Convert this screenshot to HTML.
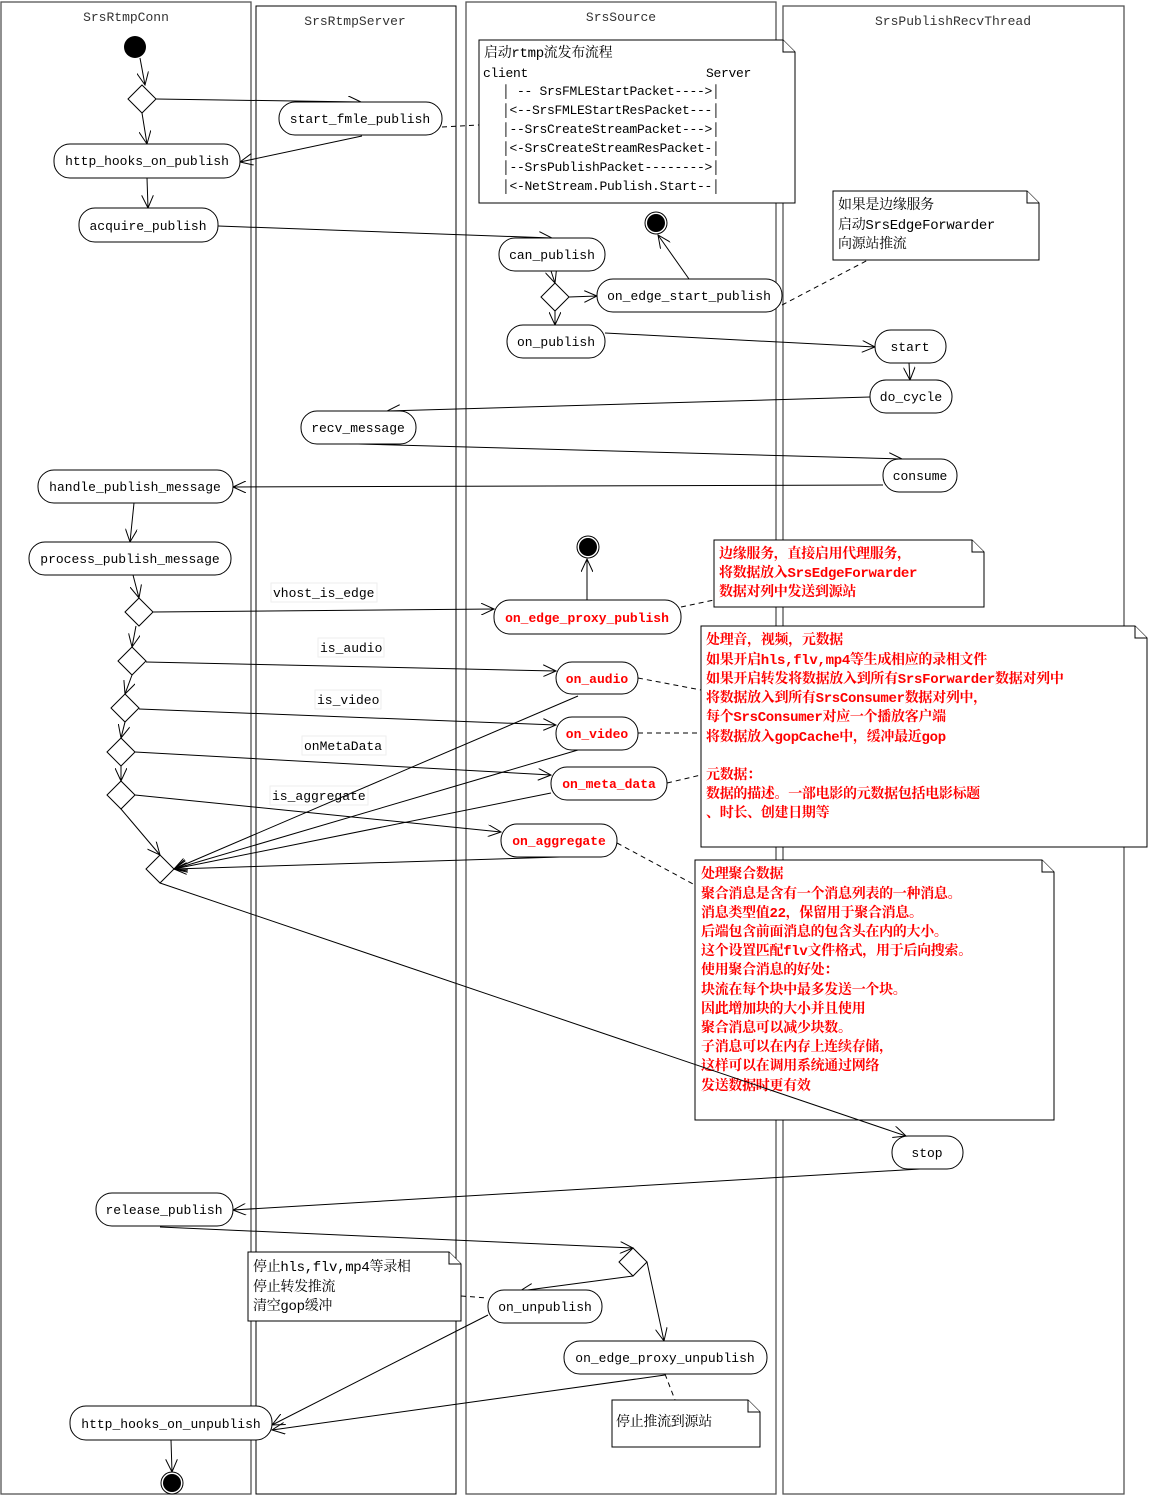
<!DOCTYPE html>
<html><head><meta charset="utf-8"><style>
html,body{margin:0;padding:0;background:#fff}
svg{display:block}
.m{font-family:"Liberation Mono","Noto Serif CJK SC",monospace;font-size:13px}
.c{font-family:"Liberation Mono","Noto Serif CJK SC",monospace;font-size:14px;letter-spacing:-0.3px}
.r{fill:#f00;font-weight:bold}
</style></head><body>
<svg width="1151" height="1498" viewBox="0 0 1151 1498" xmlns="http://www.w3.org/2000/svg">
<defs>
<marker id="a" markerWidth="14" markerHeight="12" refX="13" refY="6" orient="auto" markerUnits="userSpaceOnUse">
<path d="M0,0 L13,6 L0,12" fill="none" stroke="#000" stroke-width="1"/></marker>
</defs>
<g fill="none" stroke="#555" stroke-width="1.3">
<rect x="1" y="2" width="250" height="1492"/>
<rect x="256" y="6" width="200" height="1488" stroke="#000" stroke-width="1"/>
<rect x="466" y="2" width="310" height="1492"/>
<rect x="783" y="6" width="341" height="1488"/>
</g>
<g class="m" fill="#333" text-anchor="middle">
<text x="126" y="21">SrsRtmpConn</text>
<text x="355" y="25">SrsRtmpServer</text>
<text x="621" y="21">SrsSource</text>
<text x="953" y="25">SrsPublishRecvThread</text>
</g>

<!-- notes -->
<g fill="#fff" stroke="#000" stroke-width="1">
<path d="M479,40 H783 L795,52 V203 H479 Z"/><path d="M783,40 V52 H795"/>
<path d="M833,191 H1027 L1039,203 V260 H833 Z"/><path d="M1027,191 V203 H1039"/>
<path d="M714,540 H972 L984,552 V607 H714 Z"/><path d="M972,540 V552 H984"/>
<path d="M701,626 H1135 L1147,638 V847 H701 Z"/><path d="M1135,626 V638 H1147"/>
<path d="M695,860 H1042 L1054,872 V1120 H695 Z"/><path d="M1042,860 V872 H1054"/>
<path d="M248,1252 H449 L461,1264 V1321 H248 Z"/><path d="M449,1252 V1264 H461"/>
<path d="M612,1400 H748 L760,1412 V1447 H612 Z"/><path d="M748,1400 V1412 H760"/>
</g>
<g class="c" fill="#000">
<text x="484" y="57">启动rtmp流发布流程</text>
<text x="483" y="77" class="m">client</text><text x="706" y="77" class="m">Server</text>
<g class="m"><text x="502" y="95" xml:space="preserve">│ -- SrsFMLEStartPacket----&gt;│</text>
<text x="502" y="114">│&lt;--SrsFMLEStartResPacket---│</text>
<text x="502" y="133">│--SrsCreateStreamPacket---&gt;│</text>
<text x="502" y="152">│&lt;-SrsCreateStreamResPacket-│</text>
<text x="502" y="171">│--SrsPublishPacket--------&gt;│</text>
<text x="502" y="190">│&lt;-NetStream.Publish.Start--│</text></g>
<text x="838" y="209">如果是边缘服务</text>
<text x="838" y="229">启动SrsEdgeForwarder</text>
<text x="838" y="248">向源站推流</text>
<text x="253" y="1271">停止hls,flv,mp4等录相</text>
<text x="253" y="1291">停止转发推流</text>
<text x="253" y="1310">清空gop缓冲</text>
<text x="616" y="1426">停止推流到源站</text>
</g>
<g class="c r">
<text x="719" y="558">边缘服务，直接启用代理服务，</text>
<text x="719" y="577">将数据放入SrsEdgeForwarder</text>
<text x="719" y="596">数据对列中发送到源站</text>
<text x="706" y="644">处理音，视频，元数据</text>
<text x="706" y="664">如果开启hls,flv,mp4等生成相应的录相文件</text>
<text x="706" y="683">如果开启转发将数据放入到所有SrsForwarder数据对列中</text>
<text x="706" y="702">将数据放入到所有SrsConsumer数据对列中，</text>
<text x="706" y="721">每个SrsConsumer对应一个播放客户端</text>
<text x="706" y="741">将数据放入gopCache中，缓冲最近gop</text>
<text x="706" y="779">元数据：</text>
<text x="706" y="798">数据的描述。一部电影的元数据包括电影标题</text>
<text x="706" y="817">、时长、创建日期等</text>
<text x="701" y="878">处理聚合数据</text>
<text x="701" y="898">聚合消息是含有一个消息列表的一种消息。</text>
<text x="701" y="917">消息类型值22，保留用于聚合消息。</text>
<text x="701" y="936">后端包含前面消息的包含头在内的大小。</text>
<text x="701" y="955">这个设置匹配flv文件格式，用于后向搜索。</text>
<text x="701" y="974">使用聚合消息的好处：</text>
<text x="701" y="994">块流在每个块中最多发送一个块。</text>
<text x="701" y="1013">因此增加块的大小并且使用</text>
<text x="701" y="1032">聚合消息可以减少块数。</text>
<text x="701" y="1051">子消息可以在内存上连续存储，</text>
<text x="701" y="1070">这样可以在调用系统通过网络</text>
<text x="701" y="1090">发送数据时更有效</text>
</g>

<!-- guard labels -->
<g class="m" fill="#000">
<rect x="271" y="583" width="106" height="19" fill="#fff" stroke="#eee"/><text x="273" y="597">vhost_is_edge</text>
<rect x="318" y="638" width="66" height="19" fill="#fff" stroke="#eee"/><text x="320" y="652">is_audio</text>
<rect x="315" y="690" width="66" height="19" fill="#fff" stroke="#eee"/><text x="317" y="704">is_video</text>
<rect x="302" y="736" width="84" height="19" fill="#fff" stroke="#eee"/><text x="304" y="750">onMetaData</text>
<rect x="270" y="786" width="98" height="19" fill="#fff" stroke="#eee"/><text x="272" y="800">is_aggregate</text>
</g>

<!-- dashed note links -->
<g stroke="#000" stroke-dasharray="5,4" fill="none">
<line x1="442" y1="127" x2="479" y2="125"/>
<line x1="782" y1="305" x2="868" y2="260"/>
<line x1="681" y1="607" x2="714" y2="600"/>
<line x1="638" y1="678" x2="701" y2="690"/>
<line x1="638" y1="733" x2="701" y2="733"/>
<line x1="667" y1="783" x2="701" y2="775"/>
<line x1="617" y1="843" x2="695" y2="885"/>
<line x1="461" y1="1296" x2="488" y2="1298"/>
<line x1="665" y1="1374" x2="675" y2="1400"/>
</g>

<!-- edges -->
<g stroke="#000" fill="none" stroke-width="1" marker-end="url(#a)">
<line x1="140" y1="58" x2="145" y2="85"/>
<line x1="156" y1="99" x2="361" y2="102"/>
<line x1="142" y1="113" x2="147" y2="144"/>
<line x1="362" y1="136" x2="240" y2="162"/>
<line x1="147" y1="178" x2="148" y2="208"/>
<line x1="218" y1="226" x2="552" y2="238"/>
<line x1="551" y1="271" x2="555" y2="283"/>
<line x1="569" y1="297" x2="597" y2="296"/>
<line x1="555" y1="311" x2="555" y2="325"/>
<line x1="689" y1="279" x2="658" y2="235"/>
<line x1="605" y1="333" x2="875" y2="347"/>
<line x1="909" y1="363" x2="910" y2="380"/>
<line x1="870" y1="397" x2="387" y2="411"/>
<line x1="358" y1="444" x2="902" y2="459"/>
<line x1="883" y1="485" x2="233" y2="487"/>
<line x1="134" y1="503" x2="130" y2="542"/>
<line x1="133" y1="575" x2="139" y2="598"/>
<line x1="153" y1="612" x2="494" y2="609"/>
<line x1="587" y1="600" x2="587" y2="559"/>
<line x1="136" y1="626" x2="132" y2="647"/>
<line x1="146" y1="662" x2="556" y2="671"/>
<line x1="132" y1="675" x2="125" y2="694"/>
<line x1="139" y1="709" x2="556" y2="725"/>
<line x1="125" y1="722" x2="121" y2="738"/>
<line x1="135" y1="752" x2="551" y2="775"/>
<line x1="121" y1="766" x2="121" y2="781"/>
<line x1="135" y1="795" x2="501" y2="832"/>
<line x1="121" y1="809" x2="160" y2="855"/>
<line x1="578" y1="696" x2="174" y2="869"/>
<line x1="578" y1="750" x2="174" y2="869"/>
<line x1="551" y1="793" x2="174" y2="869"/>
<line x1="560" y1="857" x2="174" y2="869"/>
<line x1="160" y1="883" x2="906" y2="1136"/>
<line x1="920" y1="1169" x2="233" y2="1210"/>
<line x1="160" y1="1227" x2="633" y2="1248"/>
<line x1="633" y1="1276" x2="520" y2="1291"/>
<line x1="647" y1="1262" x2="664" y2="1341"/>
<line x1="488" y1="1315" x2="272" y2="1425"/>
<line x1="665" y1="1375" x2="272" y2="1430"/>
<line x1="171" y1="1440" x2="172" y2="1472"/>
</g>

<!-- diamonds -->
<g fill="#fff" stroke="#000">
<path d="M142,85 L156,99 L142,113 L128,99 Z"/>
<path d="M555,283 L569,297 L555,311 L541,297 Z"/>
<path d="M139,598 L153,612 L139,626 L125,612 Z"/>
<path d="M132,647 L146,661 L132,675 L118,661 Z"/>
<path d="M125,694 L139,708 L125,722 L111,708 Z"/>
<path d="M121,738 L135,752 L121,766 L107,752 Z"/>
<path d="M121,781 L135,795 L121,809 L107,795 Z"/>
<path d="M160,855 L174,869 L160,883 L146,869 Z"/>
<path d="M633,1248 L647,1262 L633,1276 L619,1262 Z"/>
</g>
<circle cx="135" cy="47" r="11" fill="#000"/>
<g><circle cx="656" cy="223" r="11" fill="#fff" stroke="#000"/><circle cx="656" cy="223" r="9" fill="#000"/>
<circle cx="588" cy="547" r="11" fill="#fff" stroke="#000"/><circle cx="588" cy="547" r="9" fill="#000"/>
<circle cx="172" cy="1483" r="11" fill="#fff" stroke="#000"/><circle cx="172" cy="1483" r="9" fill="#000"/></g>

<!-- nodes -->
<g fill="#fff" stroke="#000">
<rect x="279" y="102" width="163" height="33" rx="16"/>
<rect x="54" y="144" width="186" height="34" rx="16"/>
<rect x="79" y="208" width="139" height="34" rx="16"/>
<rect x="499" y="238" width="106" height="33" rx="16"/>
<rect x="597" y="279" width="185" height="33" rx="16"/>
<rect x="507" y="325" width="98" height="33" rx="16"/>
<rect x="875" y="330" width="71" height="33" rx="16"/>
<rect x="870" y="380" width="82" height="33" rx="16"/>
<rect x="301" y="411" width="115" height="33" rx="16"/>
<rect x="883" y="459" width="74" height="33" rx="16"/>
<rect x="38" y="470" width="195" height="33" rx="16"/>
<rect x="29" y="542" width="202" height="33" rx="16"/>
<rect x="494" y="600" width="187" height="34" rx="16"/>
<rect x="556" y="662" width="82" height="32" rx="16"/>
<rect x="556" y="717" width="82" height="33" rx="16"/>
<rect x="551" y="767" width="116" height="33" rx="16"/>
<rect x="501" y="824" width="116" height="33" rx="16"/>
<rect x="892" y="1136" width="71" height="33" rx="16"/>
<rect x="96" y="1193" width="137" height="33" rx="16"/>
<rect x="488" y="1290" width="114" height="33" rx="16"/>
<rect x="564" y="1341" width="203" height="33" rx="16"/>
<rect x="70" y="1406" width="202" height="34" rx="16"/>
</g>
<g class="m" fill="#000" text-anchor="middle">
<text x="360" y="123">start_fmle_publish</text>
<text x="147" y="165">http_hooks_on_publish</text>
<text x="148" y="230">acquire_publish</text>
<text x="552" y="259">can_publish</text>
<text x="689" y="300">on_edge_start_publish</text>
<text x="556" y="346">on_publish</text>
<text x="910" y="351">start</text>
<text x="911" y="401">do_cycle</text>
<text x="358" y="432">recv_message</text>
<text x="920" y="480">consume</text>
<text x="135" y="491">handle_publish_message</text>
<text x="130" y="563">process_publish_message</text>
<text x="927" y="1157">stop</text>
<text x="164" y="1214">release_publish</text>
<text x="545" y="1311">on_unpublish</text>
<text x="665" y="1362">on_edge_proxy_unpublish</text>
<text x="171" y="1428">http_hooks_on_unpublish</text>
<g fill="#f00" font-weight="bold">
<text x="587" y="622">on_edge_proxy_publish</text>
<text x="597" y="683">on_audio</text>
<text x="597" y="738">on_video</text>
<text x="609" y="788">on_meta_data</text>
<text x="559" y="845">on_aggregate</text>
</g>
</g>
</svg>
</body></html>
